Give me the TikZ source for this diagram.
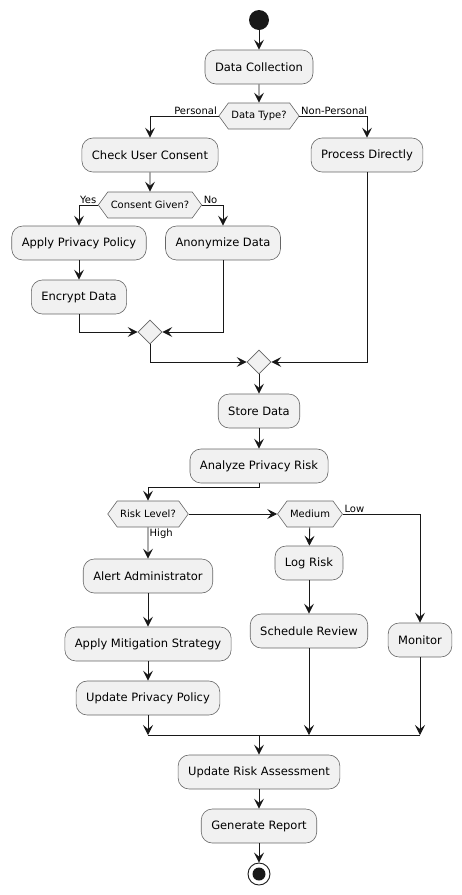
\documentclass[tikz,border=0pt]{standalone}
\usepackage{fontspec}
\setmainfont{DejaVu Sans}
\usetikzlibrary{arrows.meta,shapes.geometric,shapes.symbols}

\definecolor{actfill}{HTML}{F1F1F1}
\definecolor{linecol}{HTML}{181818}

\tikzset{
  act/.style={draw=black!60, line width=0.6pt, fill=actfill,
    rounded corners=11pt, minimum height=34pt, inner xsep=10pt,
    font=\fontsize{11.5pt}{13pt}\selectfont},
  dec/.style={signal, signal to=east and west, signal pointer angle=108,
    draw=black!60, line width=0.6pt, fill=actfill,
    minimum height=26pt, inner xsep=3pt, inner ysep=0pt,
    font=\fontsize{10pt}{12pt}\selectfont},
  merge/.style={diamond, draw=black!60, line width=0.6pt, fill=actfill,
    minimum size=24pt, inner sep=0pt},
  lbl/.style={font=\fontsize{10pt}{12pt}\selectfont, inner sep=1.5pt},
  flow/.style={draw=linecol, line width=0.9pt,
    -{Stealth[length=10pt,width=10pt,inset=4pt]}},
  link/.style={draw=linecol, line width=0.9pt}
}

\begin{document}
\begin{tikzpicture}[x=1pt,y=-1pt]

    \useasboundingbox (0,0) rectangle (462,895);

    % Start and collection
    \node[circle, fill=linecol, minimum size=20pt, inner sep=0pt] (start) at (259,20) {};
    \node[act] (collect) at (259,67) {Data Collection};
    \node[dec] (dtype) at (259,116) {Data Type?};

    % Personal branch
    \node[act] (consent) at (150,155) {Check User Consent};
    \node[dec] (given) at (150,205) {Consent Given?};
    \node[act] (policy) at (79,243) {Apply Privacy Policy};
    \node[act] (anon) at (223,243) {Anonymize Data};
    \node[act] (encrypt) at (79,297) {Encrypt Data};
    \node[merge] (merge1) at (150,332) {};

    % Non-personal branch
    \node[act] (direct) at (367,155) {Process Directly};
    \node[merge] (merge2) at (259,362) {};

    % Storage and analysis
    \node[act] (store) at (259,411) {Store Data};
    \node[act] (analyze) at (259,466) {Analyze Privacy Risk};
    \node[dec] (risk) at (148,514) {Risk Level?};
    \node[dec] (medium) at (310,514) {Medium};

    % Risk branches
    \node[act] (alert) at (148,576) {Alert Administrator};
    \node[act] (mitigate) at (148,644) {Apply Mitigation Strategy};
    \node[act] (update) at (148,698) {Update Privacy Policy};
    \node[act] (logrisk) at (309,563) {Log Risk};
    \node[act] (review) at (309,631) {Schedule Review};
    \node[act] (monitor) at (420,640) {Monitor};

    % Join bar
    \coordinate (j1) at (148,735);
    \coordinate (j2) at (309,735);
    \coordinate (j3) at (420,735);
    \coordinate (jm) at (259,735);

    % Reporting and end
    \node[act] (assess) at (259,772) {Update Risk Assessment};
    \node[act] (report) at (259,826) {Generate Report};
    \node[circle, draw=linecol, line width=0.9pt, fill=white, minimum size=22pt,
      inner sep=0pt] (stop) at (259,874) {};
    \node[circle, fill=linecol, minimum size=13pt, inner sep=0pt] (stopdot) at (stop.center) {};

    % Connectors
    \draw[flow] (start) -- (collect);
    \draw[flow] (collect) -- (dtype);
    \draw[flow] (dtype.west) -| (consent.north);
    \draw[flow] (dtype.east) -| (direct.north);
    \draw[flow] (consent) -- (given);
    \draw[flow] (given.west) -| (policy.north);
    \draw[flow] (given.east) -| (anon.north);
    \draw[flow] (policy) -- (encrypt);
    \draw[flow] (encrypt.south) |- (merge1.west);
    \draw[flow] (anon.south) |- (merge1.east);
    \draw[flow] (merge1.south) |- (merge2.west);
    \draw[flow] (direct.south) |- (merge2.east);
    \draw[flow] (merge2) -- (store);
    \draw[flow] (store) -- (analyze);
    \draw[flow] (analyze.south) -- ++(0,4) -| (risk.north);
    \draw[flow] (risk.east) -- (medium.west);
    \draw[flow] (risk) -- (alert);
    \draw[flow] (alert) -- (mitigate);
    \draw[flow] (mitigate) -- (update);
    \draw[flow] (medium) -- (logrisk);
    \draw[flow] (logrisk) -- (review);
    \draw[flow] (medium.east) -| (monitor.north);

    \foreach \n/\j in {update/j1, review/j2, monitor/j3}
    \draw[flow] (\n.south) -- (\j);
    \draw[link] (j1) -- (j3);
    \draw[flow] (jm) -- (assess);
    \draw[flow] (assess) -- (report);
    \draw[flow] (report) -- (stop);

    % Branch labels
    \node[lbl, anchor=south east] (lpers) at (dtype.west) {Personal};
    \node[lbl, anchor=south west] (lnon) at (dtype.east) {Non-Personal};
    \node[lbl, anchor=south east] (lyes) at (given.west) {Yes};
    \node[lbl, anchor=south west] (lno) at (given.east) {No};
    \node[lbl, anchor=north west] (lhigh) at (risk.south) {High};
    \node[lbl, anchor=south west] (llow) at (medium.east) {Low};

  \end{tikzpicture}
\end{document}
